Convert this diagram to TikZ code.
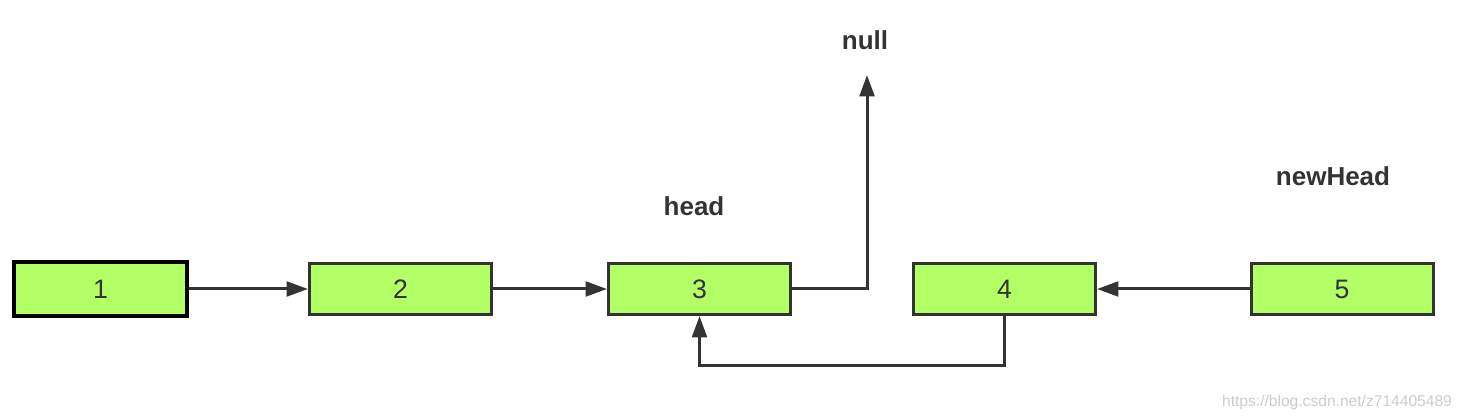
\documentclass[tikz,border=0pt]{standalone}
\usepackage{fontspec}
\setmainfont{Liberation Sans}
\usetikzlibrary{arrows.meta}
\definecolor{boxfill}{HTML}{B3FF66}
\definecolor{ink}{HTML}{333333}
\definecolor{mark}{HTML}{CCCCCC}
\begin{document}
\begin{tikzpicture}[x=0.75pt,y=-0.75pt,
  listbox/.style={draw=ink,fill=boxfill,line width=2.25pt,minimum width=136.5pt,minimum height=38.25pt,inner sep=0pt,font=\fontsize{20}{24}\selectfont,text=ink},
  firstbox/.style={listbox,draw=black,line width=3pt,minimum width=129.75pt,minimum height=40.5pt},
  lbl/.style={font=\bfseries\fontsize{19.5}{23}\selectfont,text=ink},
  link/.style={draw=ink,line width=2.25pt,-{Triangle[length=16pt,width=11pt]}}]
\useasboundingbox (0,0) rectangle (1463,420);
\node[firstbox] (n1) at (100.5,289) {1};
\node[listbox] (n2) at (400.5,289) {2};
\node[listbox] (n3) at (699.5,289) {3};
\node[listbox] (n4) at (1004.5,289) {4};
\node[listbox] (n5) at (1342,289) {5};
\node[lbl] (null) at (865,40) {null};
\node[lbl] (head) at (694,206) {head};
\node[lbl] (newhead) at (1333,176) {newHead};
\node[font=\fontsize{11.7}{14}\selectfont,text=mark] (wm) at (1337,402) {https://blog.csdn.net/z714405489};
\coordinate (nulltip) at (867,75);
\draw[link] (n1) -- (n2);
\draw[link] (n2) -- (n3);
\draw[link] (n5) -- (n4);
\draw[link] (n3.east) -| (nulltip);
\draw[link] (n4.south) -- ++(0,49) -| (n3.south);
\end{tikzpicture}
\end{document}
